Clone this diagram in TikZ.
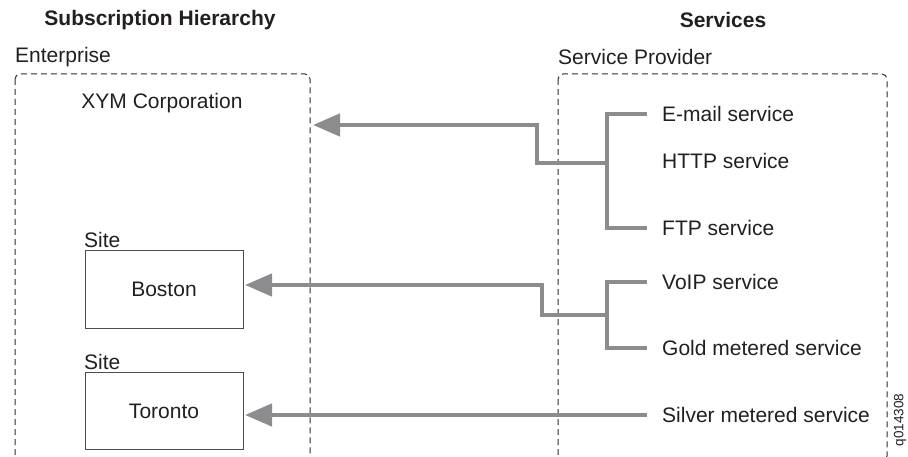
\documentclass[tikz,border=0pt]{standalone}
\usepackage{fontspec}
\setmainfont{Liberation Sans}
\usetikzlibrary{arrows.meta}

\definecolor{ink}{RGB}{35,31,32}
\definecolor{feedgray}{RGB}{140,140,143}
\definecolor{dashgray}{RGB}{45,45,47}

\tikzset{
  regionbox/.style={draw=dashgray, line width=1pt, dash pattern=on 6pt off 4pt, rounded corners=5pt},
  sitebox/.style={draw=ink!80, line width=1pt, minimum width=158pt, minimum height=77pt, outer sep=2pt},
  svc/.style={anchor=west, inner sep=2pt},
  feed/.style={draw=feedgray, line width=4.5pt},
  feedtip/.style={-{Triangle[length=27pt,width=22pt]}}
}

\begin{document}
\begin{tikzpicture}[x=1pt, y=-1pt, font=\fontsize{21}{25}\selectfont, text=ink]
\useasboundingbox (0,0) rectangle (908,457);

% headings
\node (hier) at (160,20) {\bfseries Subscription Hierarchy};
\node (serv) at (723,20) {\bfseries Services};
\node[anchor=west, inner sep=0pt] (ent) at (15,57) {Enterprise};
\node[anchor=west, inner sep=0pt] (prov) at (558,57) {Service Provider};

% dashed containers
\draw[regionbox] (15,74) rectangle (310,461);
\draw[regionbox] (558,74) rectangle (887,461);

% subscription side
\node (xym) at (162,103) {XYM Corporation};
\node[sitebox] (boston) at (164,289.5) {Boston};
\node[sitebox] (toronto) at (164,411) {Toronto};
\node[anchor=south west, inner sep=1pt] (site1) at (boston.north west) {Site};
\node[anchor=south west, inner sep=1pt] (site2) at (toronto.north west) {Site};

% services
\node[svc] (email) at (660,114) {E-mail service};
\node[svc] (http) at (660,161) {HTTP service};
\node[svc] (ftp) at (660,228) {FTP service};
\node[svc] (voip) at (660,282) {VoIP service};
\node[svc] (gold) at (660,348) {Gold metered service};
\node[svc] (silver) at (660,415) {Silver metered service};

\node[rotate=90, font=\fontsize{13.5}{16}\selectfont] (figid) at (900,420) {q014308};

% bundle junctions
\coordinate (j1) at (607,163);
\coordinate (k1) at (537,163);
\coordinate (k1top) at (537,125);
\coordinate (entin) at (313,125);
\coordinate (j2) at (607,315);
\coordinate (k2) at (542,315);
\coordinate (k2top) at (542,285);

% connectors
\draw[feed, shorten <=13pt, shorten >=13pt] (email.west) -| (j1) |- (ftp.west);
\draw[feed, feedtip] (j1) -- (k1) -- (k1top) -- (entin);
\draw[feed, shorten <=13pt, shorten >=13pt] (voip.west) -| (j2) |- (gold.west);
\draw[feed, feedtip] (j2) -- (k2) -- (k2top) -- (boston.east |- k2top);
\draw[feed, feedtip, shorten <=13pt] (silver.west) -- (toronto.east |- silver.west);

\end{tikzpicture}
\end{document}
